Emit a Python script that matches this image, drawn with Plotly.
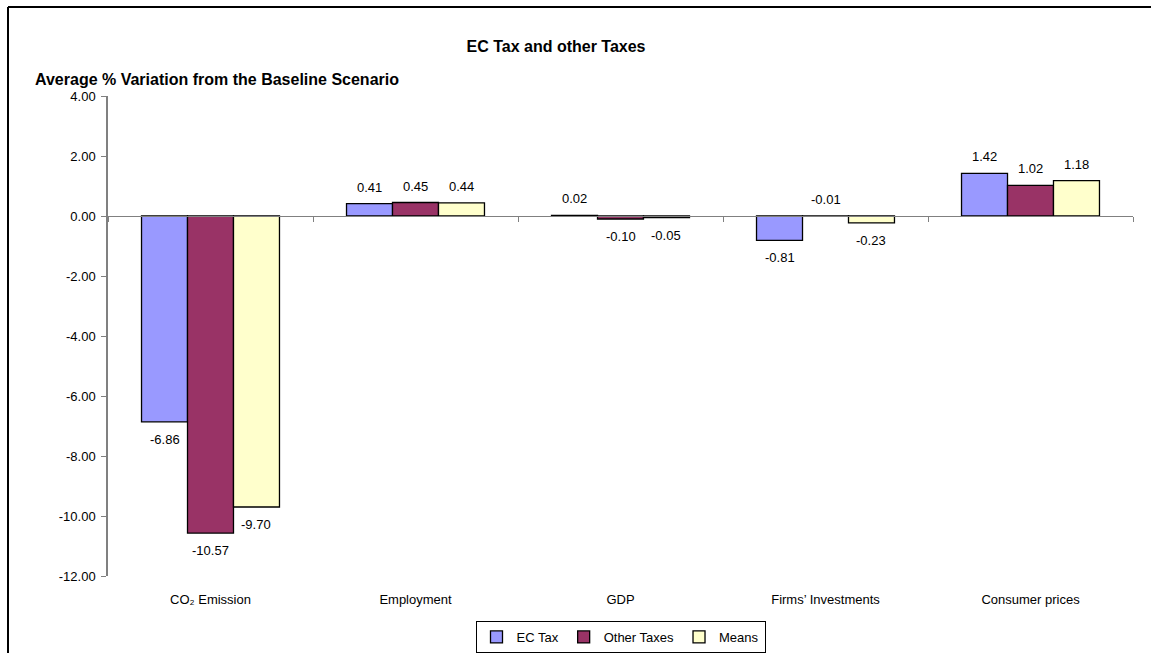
import plotly.graph_objects as go

categories = ["CO₂ Emission", "Employment", "GDP", "Firms’ Investments", "Consumer prices"]
series_names = ["EC Tax", "Other Taxes", "Means"]
ec_tax = [-6.86, 0.41, 0.02, -0.81, 1.42]
other_taxes = [-10.57, 0.45, -0.10, -0.01, 1.02]
means = [-9.70, 0.44, -0.05, -0.23, 1.18]
colors = ["#9999FF", "#993366", "#FFFFCC"]
y_ticks = [4, 2, 0, -2, -4, -6, -8, -10, -12]

W, H = 1151, 668
L, R, T = 108, 18, 96
PLOT_BOTTOM = 576
B = H - PLOT_BOTTOM
pw, ph = W - L - R, H - T - B
FONT = "Liberation Sans, Arial, sans-serif"


def px_x(x):
    return (x - L) / pw


def px_y(y):
    return (PLOT_BOTTOM - y) / ph


fig = go.Figure()
all_series = [ec_tax, other_taxes, means]
for name, vals, col in zip(series_names, all_series, colors):
    fig.add_trace(go.Bar(
        name=name, x=categories, y=vals,
        marker=dict(color=col, line=dict(color="black", width=1.3)),
        hoverinfo="x+y",
    ))

bargap = 0.327
bw = (1 - bargap) / 3
annotations = []
for si, vals in enumerate(all_series):
    off = (si - 1) * bw
    for ci, v in enumerate(vals):
        above = v > -0.05
        annotations.append(dict(
            x=ci + off, y=v if (v >= 0 or not above) else 0, xref="x", yref="y",
            text=f"{v:.2f}", showarrow=False,
            yanchor="bottom" if above else "top",
            yshift=7 if above else -8,
            font=dict(size=13, color="black", family=FONT),
        ))

# y-axis title (horizontal, top-left)
annotations.append(dict(
    x=px_x(33), y=px_y(80), xref="paper", yref="paper",
    text="<b>Average % Variation from the Baseline Scenario</b>", showarrow=False,
    xanchor="left", yanchor="middle", font=dict(size=16, color="black", family=FONT),
))

fig.update_layout(
    width=W, height=H, autosize=False,
    margin=dict(l=L, r=R, t=T, b=B),
    paper_bgcolor="white", plot_bgcolor="white",
    barmode="group", bargap=bargap, bargroupgap=0,
    title=dict(text="<b>EC Tax and other Taxes</b>", x=556 / W, xanchor="center",
               y=1 - 46 / H, yanchor="middle", yref="container",
               font=dict(size=16, color="black", family=FONT)),
    font=dict(family=FONT, size=13, color="black"),
    showlegend=True,
    legend=dict(orientation="h", x=0.5, xanchor="center",
                y=px_y(621), yanchor="top",
                bordercolor="black", borderwidth=1, bgcolor="white",
                font=dict(size=13, color="black", family=FONT),
                itemwidth=30, tracegroupgap=0),
    xaxis=dict(type="category", categoryarray=categories, range=[-0.5, 4.5],
               showline=False, ticks="", showgrid=False, zeroline=False,
               ticklabelstandoff=14, tickfont=dict(size=13, color="black")),
    xaxis2=dict(overlaying="x", anchor="free", position=(0 - (-12)) / 16,
                range=[-0.5, 4.5], tickvals=[-0.5, 0.5, 1.5, 2.5, 3.5, 4.5],
                showticklabels=False, ticks="outside", ticklen=5, tickcolor="#808080",
                showline=True, linecolor="#808080", linewidth=1, showgrid=False,
                zeroline=False, side="bottom"),
    yaxis=dict(range=[-12, 4], tickvals=y_ticks,
               ticktext=[f"{v:.2f}" for v in y_ticks],
               showline=True, linecolor="#808080", linewidth=1.5,
               ticks="outside", ticklen=5, tickcolor="#808080", ticklabelstandoff=3,
               showgrid=False, zeroline=False, tickfont=dict(size=13, color="black")),
    annotations=annotations,
    shapes=[
        dict(type="line", xref="paper", yref="paper",
             x0=px_x(8), x1=px_x(W), y0=px_y(7), y1=px_y(7),
             line=dict(color="black", width=2), layer="below"),
        dict(type="line", xref="paper", yref="paper",
             x0=px_x(8), x1=px_x(8), y0=px_y(7), y1=px_y(H),
             line=dict(color="black", width=2), layer="below"),
    ],
)
# invisible helper trace so the zero-line axis (xaxis2) is drawn
fig.add_trace(go.Scatter(x=[-0.5], y=[0], xaxis="x2", mode="markers",
                         marker=dict(opacity=0), showlegend=False, hoverinfo="skip"))

fig.write_html("out.html", config={"displayModeBar": False, "responsive": False},
               post_script="document.body.style.margin='0';document.documentElement.style.overflow='hidden';document.body.style.overflow='hidden';")
